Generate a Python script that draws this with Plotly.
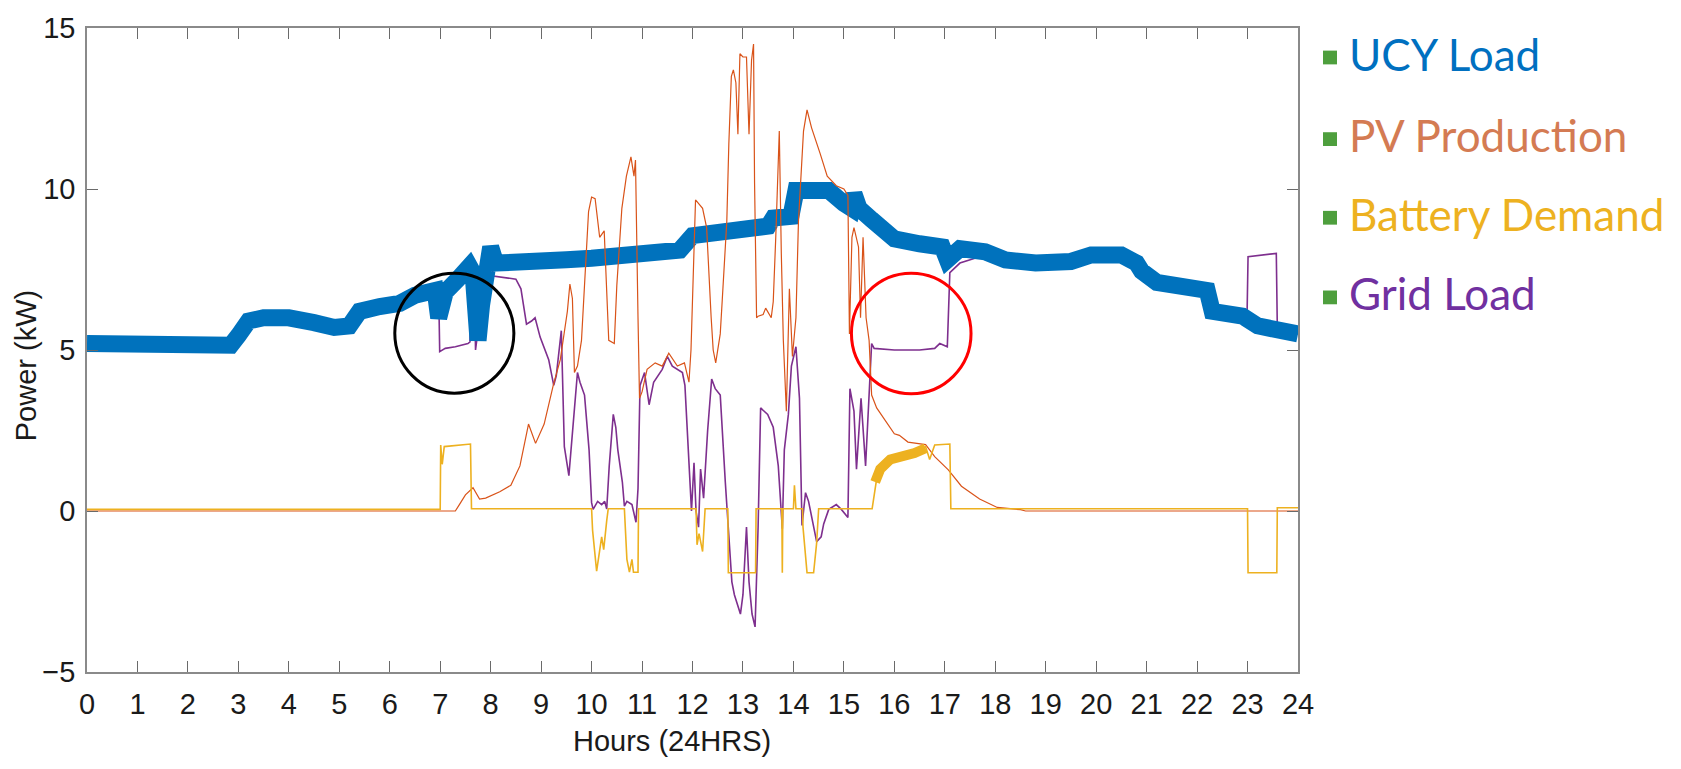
import plotly.graph_objects as go

# ---------------- data (hours, kW) ----------------
UCY_T = [0.0, 0.5, 1.0, 1.5, 2.0, 2.5, 2.85, 3.0, 3.2, 3.5, 4.0, 4.5, 4.9, 5.2, 5.4, 5.8, 6.2, 6.5, 6.9,
         6.97, 7.05, 7.1, 7.35, 7.58, 7.65, 7.7, 7.75, 7.82, 7.92, 8.0, 8.1, 8.5, 9.0, 9.5, 10.0, 10.5,
         11.0, 11.5, 11.75, 12.0, 12.5, 13.0, 13.5, 13.6, 13.95, 14.05, 14.3, 14.7, 15.0, 15.15, 15.2,
         15.3, 15.55, 16.0, 16.5, 16.95, 17.05, 17.3, 17.8, 18.2, 18.8, 19.5, 19.9, 20.5, 20.8, 20.9,
         21.2, 21.8, 22.2, 22.3, 22.9, 23.2, 23.5, 24.0]
UCY_P = [5.2, 5.2, 5.15, 5.2, 5.2, 5.2, 5.15, 5.45, 5.9, 6.0, 6.0, 5.85, 5.7, 5.75, 6.2, 6.35, 6.45, 6.7, 6.85,
         6.0, 6.7, 6.8, 7.2, 7.6, 7.4, 5.4, 5.3, 6.4, 7.9, 8.2, 7.7, 7.7, 7.75, 7.8, 7.85, 7.95,
         8.0, 8.05, 8.1, 8.55, 8.65, 8.75, 8.85, 9.1, 9.15, 9.95, 10.0, 9.95, 9.55, 9.4, 9.85,
         9.4, 9.05, 8.45, 8.3, 8.2, 7.8, 8.15, 8.05, 7.8, 7.7, 7.75, 7.95, 7.95, 7.7, 7.45,
         7.1, 7.0, 6.85, 6.2, 6.05, 5.75, 5.65, 5.5]

PV_T = [0.0, 7.3, 7.38, 7.5, 7.65, 7.78, 7.9, 8.18, 8.4, 8.58, 8.75, 8.89, 9.06, 9.24, 9.38, 9.52, 9.57,
        9.62, 9.66, 9.72, 9.8, 9.88, 9.94, 10.0, 10.07, 10.16, 10.25, 10.34, 10.45, 10.5, 10.6, 10.69,
        10.78, 10.84, 10.87, 10.92, 10.95, 11.0, 11.1, 11.26, 11.4, 11.53, 11.7, 11.84, 11.93, 11.97,
        12.02, 12.06, 12.2, 12.28, 12.37, 12.41, 12.46, 12.55, 12.59, 12.68, 12.72, 12.77, 12.81, 12.86,
        12.9, 12.94, 13.0, 13.07, 13.12, 13.17, 13.21, 13.23, 13.27, 13.3, 13.4, 13.45, 13.56, 13.6,
        13.65, 13.72, 13.76, 13.8, 13.86, 13.92, 13.98, 14.05, 14.1, 14.2, 14.27, 14.36, 14.53, 14.67,
        14.85, 15.0, 15.08, 15.11, 15.16, 15.2, 15.29, 15.33, 15.38, 15.44, 15.5, 15.55, 15.65, 15.78,
        16.0, 16.1, 16.27, 16.62, 16.8, 17.07, 17.33, 17.69, 18.04, 18.5, 18.6, 24.0]
PV_P = [0.0, 0.0, 0.2, 0.5, 0.72, 0.37, 0.4, 0.6, 0.8, 1.4, 2.7, 2.1, 2.7, 3.9, 4.7, 6.2, 7.05,
        6.6, 4.3, 4.5, 5.3, 7.5, 9.3, 9.75, 9.7, 8.5, 8.7, 5.3, 5.2, 7.0, 9.4, 10.4,
        11.0, 10.4, 10.9, 6.0, 3.5, 3.7, 4.4, 4.6, 4.5, 4.9, 4.5, 4.6, 4.0, 5.0,
        7.4, 9.66, 9.4, 8.8, 6.0, 5.0, 4.6, 5.5, 6.56, 9.0, 11.4, 13.5, 13.7, 13.3,
        11.7, 14.2, 14.1, 14.1, 11.7, 14.0, 14.5, 10.2, 6.0, 6.05, 6.1, 6.3, 6.0, 6.5,
        8.5, 11.8, 8.0, 5.3, 3.1, 6.9, 4.8, 6.0, 9.0, 11.8, 12.46, 11.9, 11.1, 10.4,
        10.1, 10.0, 9.8, 5.5, 8.5, 8.8, 8.2, 6.0, 8.5, 6.0, 5.3, 3.6, 3.2, 2.9,
        2.4, 2.35, 2.14, 2.06, 1.69, 1.28, 0.77, 0.37, 0.11, 0.04, 0.0, 0.0]

BAT_T = [0.0, 7.0, 7.01, 7.04, 7.08, 7.6, 7.62, 10.0, 10.02, 10.1, 10.2, 10.24, 10.3, 10.33, 10.65,
         10.7, 10.75, 10.8, 10.83, 10.92, 10.93, 12.07, 12.09, 12.13, 12.2, 12.25, 12.7, 12.71, 13.25,
         13.26, 13.77, 13.78, 13.79, 14.0, 14.02, 14.05, 14.18, 14.19, 14.27, 14.4, 14.46, 14.5, 15.56,
         15.65, 15.72, 15.92, 16.2, 16.4, 16.62, 16.7, 16.8, 17.1, 17.12, 23.0, 23.01, 23.58, 23.59, 24.0]
BAT_P = [0.05, 0.05, 2.05, 1.45, 2.0, 2.08, 0.07, 0.07, -0.6, -1.87, -0.8, -1.2, -0.3, 0.07, 0.07,
         -1.5, -1.9, -1.5, -1.9, -1.9, 0.07, 0.07, -1.05, -0.7, -1.26, 0.07, 0.07, -1.92, -1.92,
         0.07, 0.07, -1.92, 0.07, 0.07, 0.8, 0.07, 0.07, -0.5, -1.92, -1.92, -1.0, 0.07, 0.07,
         1.0, 1.3, 1.6, 1.7, 1.8, 2.0, 1.6, 2.05, 2.08, 0.07, 0.07, -1.92, -1.92, 0.1, 0.1]
# noisy charging section of battery demand (drawn as a band)
BAT_BAND_T = [15.62, 15.72, 15.92, 16.2, 16.4, 16.62]
BAT_BAND_P = [0.9, 1.3, 1.6, 1.7, 1.8, 1.95]

GRID_T = [0.0, 2.85, 3.0, 3.2, 4.0, 4.9, 5.2, 5.4, 6.2, 6.9, 6.97, 6.99, 7.1, 7.3, 7.55, 7.59, 7.61,
          7.68, 7.7, 7.8, 7.92, 8.0, 8.05, 8.5, 8.6, 8.65, 8.71, 8.81, 8.88, 8.98, 9.05, 9.15, 9.25,
          9.3, 9.4, 9.46, 9.55, 9.64, 9.72, 9.77, 9.86, 9.95, 10.0, 10.03, 10.12, 10.2, 10.26, 10.3,
          10.35, 10.43, 10.48, 10.52, 10.61, 10.65, 10.7, 10.8, 10.88, 10.92, 10.96, 11.05, 11.14,
          11.23, 11.4, 11.5, 11.6, 11.8, 11.85, 11.98, 12.03, 12.07, 12.12, 12.16, 12.22, 12.3, 12.38,
          12.45, 12.55, 12.65, 12.73, 12.78, 12.83, 12.95, 13.0, 13.07, 13.12, 13.18, 13.24, 13.3,
          13.35, 13.49, 13.6, 13.7, 13.78, 13.82, 13.9, 13.96, 14.05, 14.12, 14.17, 14.24, 14.3,
          14.38, 14.46, 14.55, 14.6, 14.7, 14.85, 14.95, 15.08, 15.12, 15.2, 15.25, 15.34, 15.43,
          15.5, 15.55, 15.6, 16.0, 16.5, 16.8, 16.9, 17.05, 17.1, 17.3, 17.8, 18.2, 19.0, 19.5,
          19.9, 20.5, 20.8, 20.9, 21.2, 21.8, 22.2, 22.3, 22.9, 22.99, 23.01, 23.3, 23.57, 23.59, 24.0]
GRID_P = [5.2, 5.2, 5.45, 5.95, 6.0, 5.7, 5.75, 6.2, 6.45, 6.9, 6.8, 4.95, 5.05, 5.1, 5.2, 5.25, 7.2,
          7.1, 5.0, 6.3, 7.7, 8.0, 7.3, 7.2, 6.9, 6.4, 5.8, 5.9, 6.0, 5.4, 5.1, 4.7, 3.9,
          4.2, 5.6, 2.0, 1.1, 2.9, 4.3, 4.0, 3.6, 1.9, 0.26, 0.05, 0.3, 0.2, 0.3, 0.06,
          1.4, 3.0, 2.6, 1.9, 0.9, 0.15, 0.3, 0.2, -0.35, 0.7, 3.9, 4.3, 3.3,
          4.0, 4.4, 4.8, 4.5, 4.3, 3.9, 0.0, 1.5, 0.0, -0.5, 1.3, 0.4, 2.5, 4.1,
          3.8, 3.6, 0.9, -1.2, -2.2, -2.6, -3.2, -2.6, -0.5, -2.2, -3.2, -3.6, -0.5,
          3.2, 3.0, 2.6, 1.4, -0.55, 1.9, 3.0, 4.5, 5.1, 3.5, -0.45, 0.57, 0.3,
          -0.35, -0.95, -0.8, -0.4, 0.05, 0.2, 0.05, -0.2, 3.8, 3.1, 1.3, 3.5, 1.4,
          3.9, 5.2, 5.05, 5.0, 5.0, 5.05, 5.2, 5.1, 7.4, 7.7, 7.95, 7.75, 7.7, 7.8,
          8.05, 8.0, 7.75, 7.5, 7.15, 7.05, 6.9, 6.3, 6.1, 6.05, 7.9, 7.95, 8.0, 5.7, 5.5]

X_TICKS = list(range(0, 25))
Y_TICKS = [-5, 0, 5, 10, 15]

LEGEND_NAMES = ["UCY Load", "PV Production", "Battery Demand", "Grid Load"]
LEGEND_COLORS = ["#0070C0", "#D47B53", "#EDB120", "#7030A0"]

# ---------------- layout geometry (pixels) ----------------
W, H = 1681, 769
PL, PR, PT, PB = 87, 1298, 17, 672


def px(xp):
    return (xp - PL) / (PR - PL)


def py(yp):
    return (PB - yp) / (PB - PT)


fig = go.Figure()
fig.add_trace(go.Scatter(x=GRID_T, y=GRID_P, mode="lines", name="Grid Load",
                         line=dict(color="#7E2F8E", width=1.6)))
fig.add_trace(go.Scatter(x=UCY_T, y=UCY_P, mode="lines", name="UCY Load",
                         line=dict(color="#0072BD", width=17)))
fig.add_trace(go.Scatter(x=PV_T, y=PV_P, mode="lines", name="PV Production",
                         line=dict(color="#D95319", width=1.2)))
fig.add_trace(go.Scatter(x=BAT_T, y=BAT_P, mode="lines", name="Battery Demand",
                         line=dict(color="#EDB120", width=1.6)))
fig.add_trace(go.Scatter(x=BAT_BAND_T, y=BAT_BAND_P, mode="lines", name="Battery Demand band",
                         line=dict(color="#EDB120", width=10)))

FONT = "Liberation Sans, Arial, sans-serif"
axis_common = dict(
    showline=True, linecolor="#8a8a8a", linewidth=1.5, mirror="ticks",
    ticks="inside", ticklen=11, tickcolor="#6a6a6a", tickwidth=1.3,
    showgrid=False, zeroline=False,
    tickfont=dict(family=FONT, size=29, color="#1a1a1a"),
)

fig.update_layout(
    width=W, height=H, autosize=False,
    margin=dict(l=PL, r=W - PR, t=PT, b=H - PB),
    paper_bgcolor="white", plot_bgcolor="white",
    showlegend=False,
    xaxis=dict(range=[0, 24], tickvals=X_TICKS, ticklabelstandoff=5, **axis_common),
    yaxis=dict(range=[-5, 15], tickvals=Y_TICKS, ticklabelstandoff=4, **axis_common),
)

# circles
fig.add_shape(type="circle", xref="x", yref="y", x0=6.1, x1=8.46, y0=3.66, y1=7.38,
              line=dict(color="black", width=3))
fig.add_shape(type="circle", xref="x", yref="y", x0=15.15, x1=17.52, y0=3.64, y1=7.38,
              line=dict(color="#FF0000", width=3))

# axis titles
fig.add_annotation(text="Hours (24HRS)", xref="paper", yref="paper", x=px(672), y=py(742),
                   xanchor="center", yanchor="middle", showarrow=False,
                   font=dict(family=FONT, size=29, color="#1a1a1a"))
fig.add_annotation(text="Power (kW)", xref="paper", yref="paper", x=px(26), y=py(361),
                   xanchor="center", yanchor="middle", showarrow=False, textangle=-90,
                   font=dict(family=FONT, size=29, color="#1a1a1a"))

# custom legend
LEG_Y = [47, 130, 210, 291]
for name, col, yy in zip(LEGEND_NAMES, LEGEND_COLORS, LEG_Y):
    fig.add_shape(type="rect", xref="paper", yref="paper",
                  x0=px(1323), x1=px(1337), y0=py(yy + 7), y1=py(yy - 7),
                  fillcolor="#4E9F3D", line=dict(width=0))
    fig.add_annotation(text=name, xref="paper", yref="paper", x=px(1347), y=py(yy - 4),
                       xanchor="left", yanchor="middle", showarrow=False,
                       font=dict(family="Lato, Carlito, sans-serif", size=44, color=col))

fig.write_html("out.html")
